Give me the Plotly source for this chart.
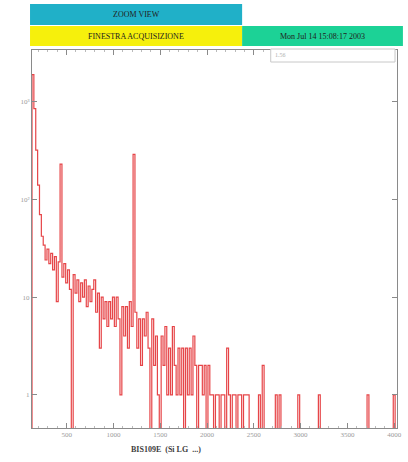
import plotly.graph_objects as go

# Histogram binning (ADC channels) and bin contents
bin_start = 130
bin_width = 20
counts = [
    1900, 850, 320, 140, 70, 42, 34, 24, 31, 22,
    28, 19, 26, 9, 23, 230, 16, 22, 14, 19,
    12, 0, 17, 11, 15, 9, 14, 10, 15, 8,
    13, 9, 12, 15, 7, 11, 3, 10, 6, 9,
    5, 9, 6, 10, 5, 10, 6, 1, 8, 4,
    8, 3, 9, 5, 290, 7, 3, 6, 2, 6,
    4, 7, 3, 0, 6, 2, 4, 1, 0, 4,
    2, 5, 1, 3, 1, 5, 2, 1, 3, 1,
    3, 0, 3, 1, 3, 1, 4, 2, 0, 2,
    2, 1, 2, 0, 2, 1, 1, 0, 1, 1,
    0, 1, 1, 0, 3, 1, 0, 1, 1, 0,
    1, 1, 0, 1, 1, 1, 0, 0, 0, 0,
    0, 1, 0, 2, 0, 0, 0, 0, 0, 0,
    1, 0, 1, 0, 0, 0, 0, 0, 0, 0,
    0, 0, 1, 0, 0, 0, 0, 0, 0, 0,
    0, 0, 0, 1, 0, 0, 0, 0, 0, 0,
    0, 0, 0, 0, 0, 0, 0, 0, 0, 0,
    0, 0, 0, 0, 0, 0, 0, 0, 0, 1,
    0, 0, 0, 0, 0, 0, 0, 0, 0, 0,
    0, 0, 0, 1, 0,
]

x_tick_vals = [500, 1000, 1500, 2000, 2500, 3000, 3500, 4000]
x_tick_text = ["500", "1000", "1500", "2000", "2500", "3000", "3500", "4000"]
y_tick_vals = [1, 10, 100, 1000]
y_tick_text = ["1", "10", "10²", "10³"]

header_title = "ZOOM VIEW"
window_label = "FINESTRA ACQUISIZIONE"
timestamp = "Mon Jul 14 15:08:17 2003"
stats_text = "1.56"
x_title = "BIS109E  (Si LG  ...)"

W, H = 408, 462
ML, MR, MT, MB = 32, 6, 50, 34
PW, PH = W - ML - MR, H - MT - MB


def px(x):
    return (x - ML) / PW


def py(y):
    return (H - MB - y) / PH


n = len(counts)
edges = [bin_start + i * bin_width for i in range(n + 1)]
floor = 0.1

fig = go.Figure()

# histogram outline (empty bins drop to the bottom of the frame)
step_x = [edges[0]] + edges[:-1] + [edges[-1]]
step_y = [floor] + [c if c > 0 else floor for c in counts] + [floor]
fig.add_trace(go.Scatter(
    x=step_x, y=step_y, mode="lines", line_shape="hv",
    line=dict(color="rgba(226,36,40,0.85)", width=1.2),
    hoverinfo="skip",
))

font_serif = "Liberation Serif"
axis_col = "#8a8a8a"

fig.update_layout(
    width=W, height=H,
    margin=dict(l=ML, r=MR, t=MT, b=MB),
    paper_bgcolor="white", plot_bgcolor="white",
    showlegend=False,
    font=dict(family=font_serif, size=7, color="#9a9a9a"),
    xaxis=dict(
        range=[130, 4030], tickvals=x_tick_vals, ticktext=x_tick_text,
        showgrid=False, zeroline=False,
        showline=True, linecolor=axis_col, linewidth=1, mirror="ticks",
        ticks="inside", ticklen=5, tickcolor=axis_col,
        minor=dict(ticks="inside", ticklen=2, dtick=100, tickcolor="#bbbbbb"),
        tickfont=dict(family=font_serif, size=7, color="#9a9a9a"),
    ),
    yaxis=dict(
        type="log", range=[-0.34, 3.53],
        tickvals=y_tick_vals, ticktext=y_tick_text,
        showgrid=False, zeroline=False,
        showline=True, linecolor=axis_col, linewidth=1, mirror="ticks",
        ticks="inside", ticklen=5, tickcolor=axis_col,
        tickfont=dict(family=font_serif, size=7, color="#9a9a9a"),
    ),
)

# header boxes
boxes = [
    (30, 4, 245, 25, "rgb(32,176,200)", header_title),
    (30, 26, 245, 46, "rgb(246,240,12)", window_label),
    (245, 26, 408, 46, "rgb(28,210,150)", timestamp),
]
for x0, y0, x1, y1, col, label in boxes:
    fig.add_shape(type="rect", xref="paper", yref="paper",
                  x0=px(x0), x1=px(x1), y0=py(y1), y1=py(y0),
                  fillcolor=col, line=dict(width=0), layer="above")
    fig.add_annotation(xref="paper", yref="paper",
                       x=px((x0 + x1) / 2), y=py((y0 + y1) / 2),
                       xanchor="center", yanchor="middle",
                       text=label, showarrow=False,
                       font=dict(family=font_serif, size=8, color="#202020"))

# small stats box at the top right
fig.add_shape(type="rect", xref="paper", yref="paper",
              x0=px(274), x1=px(400), y0=py(62), y1=py(49),
              fillcolor="white", line=dict(color="#c8c8c8", width=1), layer="above")
fig.add_annotation(xref="paper", yref="paper", x=px(284), y=py(55.5),
                   xanchor="center", yanchor="middle",
                   text=stats_text, showarrow=False,
                   font=dict(family=font_serif, size=6, color="#b0b0b0"))

# x-axis title
fig.add_annotation(xref="paper", yref="paper", x=px(168), y=py(449),
                   xanchor="center", yanchor="middle",
                   text="<b>" + x_title + "</b>", showarrow=False,
                   font=dict(family=font_serif, size=8, color="#404040"))

fig.write_html("out.html")
